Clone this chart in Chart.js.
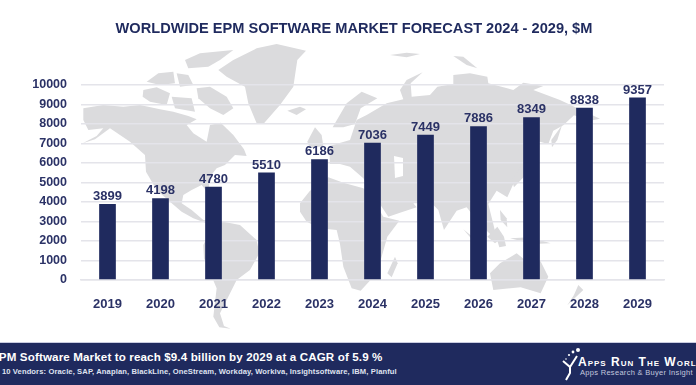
<!DOCTYPE html>
<html>
<head>
<meta charset="utf-8">
<title>Worldwide EPM Software Market Forecast</title>
<script src="https://cdn.jsdelivr.net/npm/chart.js@4"></script>
<style>
    html, body { margin: 0; padding: 0; background: #fff; overflow: hidden; }
    #wrap { position: relative; width: 696px; height: 385px; overflow: hidden; font-family: "Liberation Sans", sans-serif; }
    #map { position: absolute; left: 0; top: 0; }
    #chartBox { position: absolute; left: 0; top: 0; width: 696px; height: 342px; }
    #title { position: absolute; left: 0; top: 20px; width: 708px; text-align: center; font-size: 14.6px; font-weight: bold; color: #1f2a5e; white-space: nowrap; }
    #footer { position: absolute; left: 0; top: 342px; width: 696px; height: 43px; background: #1f2a5e; border-top: 1px solid #c9cce0; box-sizing: border-box; color: #fff; overflow: hidden; }
    #headline { position: absolute; left: -9px; top: 7px; font-size: 11.6px; font-weight: bold; white-space: nowrap; letter-spacing: .13px; }
    #vendors { position: absolute; left: -14px; top: 24px; font-size: 7.6px; font-weight: bold; color: #dfe2f0; white-space: nowrap; letter-spacing: .11px; }
    #brand { position: absolute; left: 578px; top: 12px; font-size: 12px; font-weight: bold; font-variant: small-caps; white-space: nowrap; letter-spacing: 1px; }
    #tagline { position: absolute; left: 580px; top: 25px; font-size: 7.5px; letter-spacing: .3px; color: #c3c8de; white-space: nowrap; }
    #logo { position: absolute; left: 558px; top: 4px; }
</style>
</head>
<body>
<div id="wrap">
    <svg id="map" width="696" height="342" fill="#dbdbdd">
        <g transform="translate(60 40) scale(.3333)">
            <!-- North and Central America -->
            <path d="M70 205 L130 195 L190 200 L240 195 L300 208 L340 215 L385 228 L410 238 L380 255 L400 280 L440 305 L450 255 L482 248 L520 285 L552 328 L560 348 L525 345 L495 375 L470 385 L450 410 L445 460 L425 435 L395 450 L370 465 L365 490 L395 510 L430 540 L490 545 L480 565 L440 550 L400 535 L365 515 L330 485 L290 450 L258 395 L255 345 L210 305 L150 265 L105 298 L68 310 L110 288 L130 265 L85 270 L70 240 Z"/>
            <!-- Canadian arctic -->
            <path d="M250 150 L290 142 L330 160 L320 195 L270 185 L248 170 Z"/>
            <path d="M260 125 L295 100 L340 95 L345 130 L300 135 Z"/>
            <path d="M375 60 L420 40 L520 30 L480 60 L445 80 L385 85 Z"/>
            <path d="M350 100 L385 105 L400 135 L360 140 Z"/>
            <path d="M410 145 L450 140 L500 170 L520 205 L490 225 L450 205 L415 175 Z"/>
            <path d="M335 170 L395 175 L405 215 L345 205 Z"/>
            <!-- Greenland and Iceland -->
            <path d="M475 90 L520 60 L590 25 L650 12 L738 32 L712 60 L700 140 L660 195 L612 250 L590 250 L565 190 L555 140 L500 110 Z"/>
            <path d="M682 212 L720 200 L738 208 L710 225 Z"/>
            <!-- South America -->
            <path d="M490 545 L540 555 L590 600 L598 640 L570 690 L530 720 L505 770 L480 820 L492 858 L512 866 L478 862 L460 830 L470 745 L432 655 L430 615 L445 585 Z"/>
            <!-- UK and Ireland -->
            <path d="M742 305 L765 262 L785 285 L790 318 L750 325 Z"/>
        </g>
        <g transform="translate(300 40) scale(.3333)">
            <!-- Africa -->
            <path d="M0 490 L30 452 L85 412 L130 428 L190 445 L215 470 L250 530 L298 542 L262 590 L245 650 L230 700 L182 752 L155 745 L130 680 L120 612 L110 570 L60 565 L20 545 L0 515 Z"/>
            <path d="M285 650 L262 700 L275 712 L293 670 Z"/>
            <!-- Eurasia -->
            <path d="M90 372 L88 318 L150 300 L170 240 L200 225 L260 190 L310 178 L300 150 L320 120 L368 97 L332 130 L335 170 L390 165 L412 140 L460 132 L460 105 L510 100 L562 110 L565 130 L640 150 L670 128 L730 138 L700 150 L780 180 L900 236 L870 242 L822 226 L790 256 L760 272 L745 312 L700 300 L682 350 L672 402 L640 432 L622 472 L590 452 L565 492 L582 560 L592 602 L560 572 L530 540 L500 502 L470 512 L432 570 L415 510 L395 490 L340 490 L350 502 L300 518 L265 530 L245 500 L205 445 L190 415 L150 380 L120 372 Z"/>
            <!-- Scandinavia -->
            <path d="M98 262 L140 190 L185 155 L232 175 L182 205 L165 252 L130 262 Z"/>
            <!-- Japan, Sakhalin, Kamchatka -->
            <path d="M636 420 L665 376 L672 410 L642 442 Z"/>
            <path d="M754 300 L786 256 L772 300 L756 322 Z"/>
            <!-- Arctic islands -->
            <path d="M460 48 L490 50 L532 85 L500 75 Z"/>
            <path d="M270 45 L320 38 L360 42 L320 52 Z"/>
            <!-- Indonesia, Philippines, New Guinea -->
            <path d="M490 568 L530 600 L560 632 L535 620 Z"/>
            <path d="M562 590 L592 560 L612 590 L585 610 Z"/>
            <path d="M600 510 L620 535 L622 562 L602 540 Z"/>
            <path d="M590 595 L612 590 L618 618 L598 622 Z"/>
            <path d="M630 595 L690 592 L752 610 L700 612 Z"/>
            <!-- Australia and New Zealand -->
            <path d="M570 700 L600 670 L650 640 L682 665 L720 660 L745 710 L722 760 L662 742 L580 750 Z"/>
            <path d="M835 735 L850 750 L802 796 L822 765 Z"/>
        </g>
        <g fill="#fff">
            <!-- Caspian -->
            <path d="M394 156 L403 158 L403 176 L395 178 Z"/>
        </g>
    </svg>
    <div id="chartBox"><canvas id="marketChart" width="696" height="342"></canvas></div>
    <div id="title">WORLDWIDE EPM SOFTWARE MARKET FORECAST 2024 - 2029, $M</div>
    <div id="footer">
        <div id="headline">EPM Software Market to reach $9.4 billion by 2029 at a CAGR of 5.9 %</div>
        <div id="vendors">Top 10 Vendors: Oracle, SAP, Anaplan, BlackLine, OneStream, Workday, Workiva, Insightsoftware, IBM, Planful</div>
        <svg id="logo" width="24" height="36" fill="#fff" stroke="#fff">
            <circle cx="20" cy="3" r="2" stroke="none"/>
            <circle cx="15" cy="5" r="1.4" stroke="none"/>
            <circle cx="11" cy="8" r="1.1" stroke="none"/>
            <circle cx="8" cy="12" r="0.8" stroke="none"/>
            <path d="M19 9 L12 20 L5 14 M12 20 L12 26 L8 33" fill="none" stroke-width="2"/>
        </svg>
        <div id="brand">Apps Run The World</div>
        <div id="tagline">Apps Research &amp; Buyer Insight</div>
    </div>
</div>
<script>
const years = ["2019", "2020", "2021", "2022", "2023", "2024", "2025", "2026", "2027", "2028", "2029"];
const marketValues = [3899, 4198, 4780, 5510, 6186, 7036, 7449, 7886, 8349, 8838, 9357];

const navy = "#1f2a5e";
const labelColor = "#2b3266";

// value labels sitting on top of each bar
const barValues = {
    id: "barValues",
    afterDatasetsDraw(chart) {
        const { ctx } = chart;
        const bars = chart.getDatasetMeta(0).data;
        ctx.save();
        ctx.font = "bold 13px 'Liberation Sans'";
        ctx.fillStyle = labelColor;
        ctx.textAlign = "center";
        ctx.textBaseline = "alphabetic";
        bars.forEach((bar, i) => {
            ctx.fillText(marketValues[i], bar.x, bar.y - 4);
        });
        ctx.restore();
    }
};

const ctx = document.getElementById("marketChart").getContext("2d");
new Chart(ctx, {
    type: "bar",
    data: {
        labels: years,
        datasets: [{
            label: "Market, $M",
            data: marketValues,
            backgroundColor: navy,
            barPercentage: 0.315,
            categoryPercentage: 1
        }]
    },
    options: {
        responsive: false,
        animation: false,
        layout: { padding: { left: 0, right: 32, top: 85, bottom: 0 } },
        plugins: {
            legend: { display: false },
            tooltip: { enabled: false }
        },
        scales: {
            x: {
                afterFit(axis) { axis.height = 62; },
                grid: { display: false },
                border: { color: "#e4e4ea", width: 1.5 },
                ticks: { color: labelColor, font: { family: "'Liberation Sans'", size: 13, weight: "bold" }, padding: 9, maxRotation: 0 }
            },
            y: {
                min: 0,
                max: 10000,
                afterFit(axis) { axis.width = 81; },
                grid: { color: "#e4e4ea", lineWidth: 1.5, drawTicks: false },
                border: { display: false },
                ticks: {
                    stepSize: 1000,
                    color: labelColor,
                    font: { family: "'Liberation Sans'", size: 12.5, weight: "bold" },
                    padding: 14,
                    callback: (value) => String(value)
                }
            }
        }
    },
    plugins: [barValues]
});
</script>
</body>
</html>
